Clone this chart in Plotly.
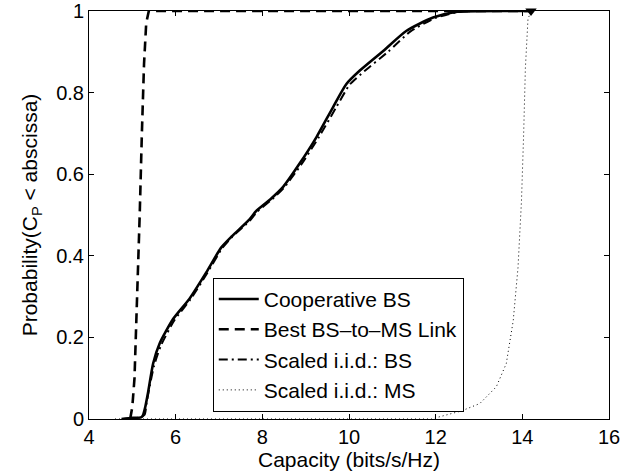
import plotly.graph_objects as go

# Cooperative BS (solid)
coop_x = [4.75, 5.0, 5.2, 5.24, 5.3, 5.36, 5.48, 5.63, 5.94, 6.32, 6.71, 7.05, 7.3, 7.71, 7.86,
          8.2, 8.48, 8.86, 9.25, 9.63, 9.94, 10.25, 10.79, 11.32, 11.94, 12.5, 14.2]
coop_y = [0, 0.003, 0.004, 0.008, 0.03, 0.063, 0.136, 0.185, 0.245, 0.295, 0.36, 0.42, 0.448,
          0.49, 0.51, 0.54, 0.569, 0.626, 0.691, 0.764, 0.821, 0.854, 0.902, 0.951, 0.984, 0.998, 1.0]

# Best BS-to-MS Link (dashed)
best_x = [4.95, 5.0, 5.05, 5.1, 5.17, 5.22, 5.27, 5.32, 5.38, 14.2]
best_y = [0, 0.03, 0.1, 0.25, 0.5, 0.7, 0.87, 0.97, 1.0, 1.0]

# Scaled i.i.d.: BS (dash-dot)
iidbs_x = [4.8, 5.1, 5.28, 5.33, 5.4, 5.5, 5.66, 5.97, 6.34, 6.73, 7.07, 7.3, 7.72, 7.88, 8.22,
           8.5, 8.9, 9.3, 9.7, 10.02, 10.35, 10.9, 11.42, 12.0, 12.55, 14.2]
iidbs_y = [0, 0.002, 0.01, 0.04, 0.08, 0.13, 0.18, 0.242, 0.293, 0.358, 0.418, 0.446, 0.487, 0.508,
           0.538, 0.567, 0.624, 0.69, 0.763, 0.82, 0.852, 0.9, 0.95, 0.983, 0.998, 1.0]

# Scaled i.i.d.: MS (dotted)
iidms_x = [4.6, 11.9, 12.25, 12.6, 13.02, 13.4, 13.63, 13.79, 13.9, 13.98, 14.03, 14.07, 14.13, 14.2]
iidms_y = [0, 0.0, 0.01, 0.02, 0.038, 0.079, 0.136, 0.241, 0.371, 0.534, 0.697, 0.859, 0.98, 1.0]

marker_x = [14.2]
marker_y = [1.0]

x_ticks = [4, 6, 8, 10, 12, 14, 16]
y_ticks = [0, 0.2, 0.4, 0.6, 0.8, 1]
y_tick_labels = ["0", "0.2", "0.4", "0.6", "0.8", "1"]

FONT = "Liberation Sans, Arial, sans-serif"
FS = 21
TFS = 20

fig = go.Figure()
fig.add_trace(go.Scatter(x=coop_x, y=coop_y, mode="lines", name="Cooperative BS",
                         line=dict(color="black", width=2.6, shape="spline", smoothing=0.6)))
fig.add_trace(go.Scatter(x=best_x, y=best_y, mode="lines", name="Best BS\u2013to\u2013MS Link",
                         line=dict(color="black", width=2.6, dash="10px,6px")))
fig.add_trace(go.Scatter(x=iidbs_x, y=iidbs_y, mode="lines", name="Scaled i.i.d.: BS",
                         line=dict(color="black", width=2.0, dash="9px,4px,2px,4px",
                                   shape="spline", smoothing=0.6)))
fig.add_trace(go.Scatter(x=iidms_x, y=iidms_y, mode="lines", name="Scaled i.i.d.: MS",
                         line=dict(color="black", width=1.0, dash="1px,3px")))
fig.add_trace(go.Scatter(x=marker_x, y=marker_y, mode="markers", showlegend=False,
                         marker=dict(symbol="triangle-down", size=10, color="black"),
                         cliponaxis=False))

axis_common = dict(showgrid=False, zeroline=False, showline=True, linecolor="black", linewidth=1,
                   mirror="ticks", ticks="inside", ticklen=5, tickcolor="black", automargin=False,
                   ticklabeloverflow="allow",
                   tickfont=dict(family=FONT, size=TFS, color="black"))

fig.update_layout(
    width=639, height=476,
    margin=dict(l=89, r=30, t=11, b=57),
    plot_bgcolor="white", paper_bgcolor="white",
    font=dict(family=FONT, size=FS, color="black"),
    xaxis=dict(range=[4, 16], tickvals=x_ticks,
               title=dict(text="Capacity (bits/s/Hz)", font=dict(family=FONT, size=FS), standoff=0),
               **axis_common),
    yaxis=dict(range=[0, 1], tickvals=y_ticks, ticktext=y_tick_labels,
               title=dict(text="Probability(C<sub>P</sub> < abscissa)", font=dict(family=FONT, size=FS),
                          standoff=12),
               **axis_common),
    legend=dict(x=0.238, y=0.346, xanchor="left", yanchor="top", bgcolor="white",
                bordercolor="black", borderwidth=1, font=dict(family=FONT, size=FS),
                itemwidth=40),
    showlegend=True,
)

fig.write_html("out.html")
